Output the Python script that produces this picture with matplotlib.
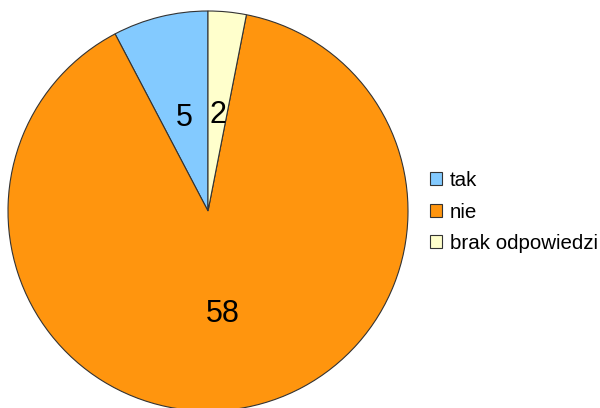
import matplotlib
matplotlib.use("Agg")
import matplotlib.pyplot as plt
from matplotlib.patches import Patch

labels = ["tak", "nie", "brak odpowiedzi"]
values = [5, 58, 2]
colors = ["#83caff", "#ff950e", "#ffffcc"]

plt.rcParams['font.family'] = ['Liberation Sans', 'DejaVu Sans']

fig = plt.figure(figsize=(6, 4.08), dpi=100)
ax = fig.add_axes([8/600, -3/408, 400/600, 400/408])
total = sum(values)
wedges, texts, autotexts = ax.pie(
    values, colors=colors, startangle=90, counterclock=True,
    autopct=lambda p: f"{round(p*total/100):d}", pctdistance=0.5,
    wedgeprops=dict(edgecolor="#333333", linewidth=0.8),
    textprops=dict(fontsize=22, color="black"), radius=1.0)
for t in autotexts:
    x, y = t.get_position()
    t.set_position((x, y - 0.02))
ax.set_xlim(-1, 1)
ax.set_ylim(-1, 1)
ax.set_aspect("equal")
ax.axis("off")

handles = [Patch(facecolor=c, edgecolor="#333333", linewidth=0.8) for c in colors]
fig.legend(handles, labels, loc="center left", bbox_to_anchor=(430/600, 1-212/408),
           frameon=False, fontsize=14.8, handlelength=0.6, handleheight=0.6,
           handletextpad=0.35, labelspacing=0.6, borderpad=0, borderaxespad=0)

fig.savefig("out.png", dpi=100)
